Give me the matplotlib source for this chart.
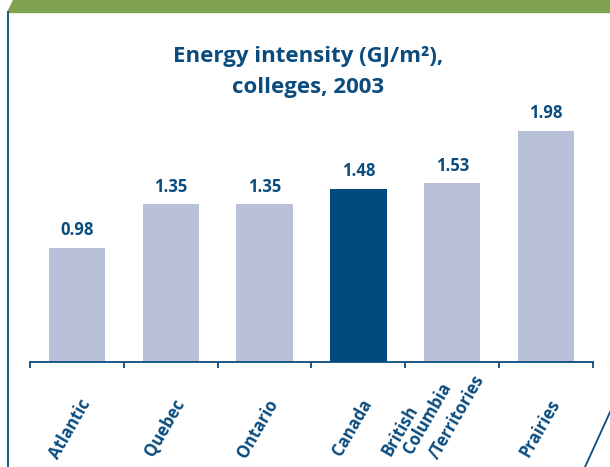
#import the packages
import matplotlib
matplotlib.use("Agg")
import matplotlib.pyplot as plt
from matplotlib.patches import Polygon
from matplotlib.lines import Line2D

#chart data
regions = ["Atlantic", "Quebec", "Ontario", "Canada", "British\nColumbia\n/Territories", "Prairies"]
intensity = [0.98, 1.35, 1.35, 1.48, 1.53, 1.98]
highlight = "Canada"
title = "Energy intensity (GJ/m²),\ncolleges, 2003"

#colours
dark_blue = "#0b4c7e"
bar_grey = "#b8c1d8"
canada_blue = "#004b7d"
green = "#7fa150"

plt.rcParams["font.family"] = ["Open Sans", "DejaVu Sans"]

fig = plt.figure(figsize=(6.10, 4.67), dpi=100)
W, H = 610, 467

#axes placed in pixel units of the reference
left, right, base, top = 30, 593, 362, 105
ax = fig.add_axes([left / W, (H - base) / H, (right - left) / W, (base - top) / H])

x = list(range(len(regions)))
colors = [canada_blue if r == highlight else bar_grey for r in regions]
ax.bar(x, intensity, width=0.6, color=colors, zorder=2)

#value labels above bars
for xi, v in zip(x, intensity):
    ax.text(xi, v + 0.075, f"{v:.2f}", ha="center", va="bottom",
            fontsize=12, fontweight="bold", color=dark_blue)

ax.set_xlim(-0.5, len(regions) - 0.5)
ax.set_ylim(0, 2.2)
ax.set_yticks([])

for s in ["top", "right", "left"]:
    ax.spines[s].set_visible(False)
ax.spines["bottom"].set_color(dark_blue)
ax.spines["bottom"].set_linewidth(1.3)

#ticks only between the bars
ax.set_xticks([])
ax.set_xticks([i - 0.5 for i in range(len(regions) + 1)], minor=True)
ax.tick_params(axis="x", which="minor", length=4.5, width=1.3, color=dark_blue, direction="out")

#category labels, rotated
label_style = dict(rotation=60, rotation_mode="anchor", fontsize=12,
                   fontweight="bold", color=dark_blue, xycoords="data",
                   textcoords="offset points", annotation_clip=False)
for xi, name in zip(x, regions):
    lines = name.split("\n")
    if len(lines) == 1:
        ax.annotate(name, xy=(xi, 0), xytext=(7, -28), ha="right", va="center", **label_style)
    else:
        #multi-line label: each line starts near the bottom edge
        offsets = [(-44.6, -68.4), (-28.8, -67), (-10.1, -70.6)]
        for line, off in zip(lines, offsets):
            ax.annotate(line, xy=(xi, 0), xytext=off, ha="left", va="baseline", **label_style)

#title
fig.text(308 / W, 1 - 72 / H, title, ha="center", va="center", fontsize=16,
         fontweight="bold", color=dark_blue, linespacing=1.65)

#page decorations: green band, left border, diagonal stroke
band = Polygon([[13 / W, 1], [1, 1], [1, 1 - 12 / H], [7 / W, 1 - 12 / H]],
               closed=True, transform=fig.transFigure, color=green)
fig.patches.append(band)
fig.lines.append(Line2D([7.5 / W, 7.5 / W], [0, 1 - 12 / H], transform=fig.transFigure,
                        color=dark_blue, linewidth=1.3))
fig.lines.append(Line2D([585 / W, 611 / W], [0, 1 - 410 / H], transform=fig.transFigure,
                        color=dark_blue, linewidth=1.3))

fig.savefig("out.png", dpi=100)
